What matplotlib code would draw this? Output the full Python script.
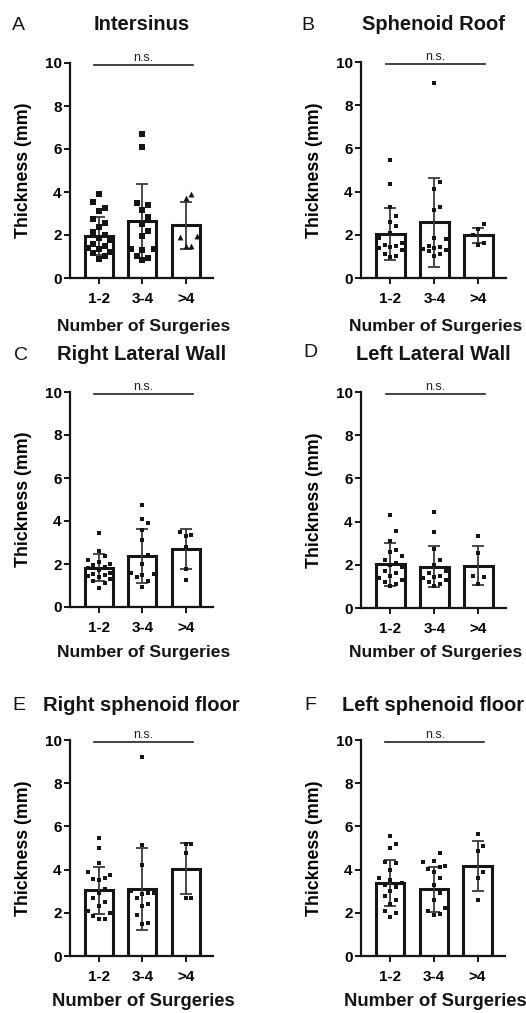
import numpy as np
import matplotlib
matplotlib.use('Agg')
import matplotlib.pyplot as plt

plt.rcParams['font.family'] = ['Liberation Sans', 'DejaVu Sans']

groups = ['1-2', '3-4', '>4']

# panel letter, title
panels = [
    ('A', 'Intersinus'),
    ('B', 'Sphenoid Roof'),
    ('C', 'Right Lateral Wall'),
    ('D', 'Left Lateral Wall'),
    ('E', 'Right sphenoid floor'),
    ('F', 'Left sphenoid floor'),
]

# bar means and SD
means = [
    [1.96, 2.64, 2.46],
    [2.03, 2.57, 1.98],
    [1.83, 2.37, 2.68],
    [2.03, 1.90, 1.95],
    [3.04, 3.09, 4.05],
    [3.38, 3.09, 4.16],
]
sds = [
    [0.89, 1.73, 1.09],
    [1.20, 2.07, 0.34],
    [0.62, 1.27, 0.93],
    [1.00, 0.95, 0.90],
    [1.08, 1.90, 1.20],
    [1.05, 1.04, 1.15],
]

# individual points
intersinus = [
    [3.9, 3.55, 3.25, 3.1, 2.75, 2.55, 2.35, 2.15, 2.0, 1.85, 1.75, 1.6, 1.5, 1.4, 1.35, 1.2, 1.15, 1.0, 0.9],
    [6.7, 6.1, 3.5, 3.4, 3.15, 2.85, 2.5, 2.2, 1.95, 1.35, 1.35, 1.3, 1.0, 0.95, 0.85],
    [3.9, 3.7, 1.95, 1.9, 1.5, 1.5],
]
roof = [
    [5.45, 4.35, 3.3, 2.85, 2.6, 2.4, 2.1, 1.85, 1.6, 1.55, 1.5, 1.45, 1.4, 1.3, 1.1, 1.0, 0.95],
    [9.05, 4.45, 4.1, 3.3, 3.15, 1.85, 1.8, 1.5, 1.45, 1.4, 1.35, 1.3, 1.25, 1.1, 1.0],
    [2.5, 2.25, 2.0, 1.6, 1.55],
]
right_wall = [
    [3.45, 2.6, 2.35, 2.2, 2.1, 2.0, 1.95, 1.85, 1.8, 1.7, 1.6, 1.55, 1.5, 1.45, 1.4, 1.3, 1.2, 1.1, 0.9],
    [4.75, 4.1, 3.9, 3.6, 3.1, 2.4, 2.0, 1.6, 1.55, 1.5, 1.4, 1.2, 0.95],
    [3.5, 3.3, 3.35, 2.8, 1.75, 1.25],
]
left_wall = [
    [4.3, 3.55, 3.1, 2.7, 2.6, 2.4, 2.2, 2.1, 2.0, 1.9, 1.7, 1.6, 1.5, 1.4, 1.3, 1.2, 1.1, 1.0],
    [4.45, 3.5, 2.75, 2.2, 2.0, 1.7, 1.6, 1.5, 1.45, 1.4, 1.3, 1.2, 1.1, 1.0],
    [3.35, 2.55, 1.5, 1.45, 1.1],
]
right_floor = [
    [5.45, 5.0, 4.3, 3.9, 3.75, 3.6, 3.55, 3.5, 3.1, 2.9, 2.7, 2.5, 2.3, 2.1, 2.0, 1.85, 1.7, 1.7],
    [9.2, 5.15, 4.2, 3.0, 2.9, 2.9, 2.85, 2.7, 2.4, 2.3, 1.9, 1.55, 1.5],
    [5.2, 5.2, 4.75, 2.7, 2.7],
]
left_floor = [
    [5.55, 5.2, 5.0, 4.35, 4.3, 4.0, 3.6, 3.5, 3.4, 3.3, 3.2, 3.0, 2.8, 2.6, 2.4, 2.1, 2.0, 1.8],
    [4.75, 4.4, 4.35, 4.15, 4.1, 4.05, 3.9, 3.6, 3.3, 2.9, 2.6, 2.2, 2.1, 1.95, 1.9],
    [5.65, 5.1, 4.85, 3.9, 3.6, 2.6],
]
points = [intersinus, roof, right_wall, left_wall, right_floor, left_floor]

W, H = 526, 1013
# axes boxes in pixels: left, right, top, bottom
boxes = [
    (70, 213, 63, 278),
    (361, 506, 62, 278),
    (70, 213, 392, 607),
    (361, 506, 392, 608),
    (70, 213, 740, 956),
    (361, 505, 740, 956),
]
letter_pos = [(18, 25), (308, 25), (21, 355), (310, 352), (19, 705), (310, 705)]
title_y = [25, 25, 355, 355, 705, 705]
xlabel_y = [326, 326, 652, 652, 1001, 1001]

ink = '#151515'


def swarm(vals, step=0.13, dy=0.45, kmax=2):
    # spread points sideways so that close values do not sit on top of each other
    vals = np.asarray(vals, dtype=float)
    xs = np.zeros(len(vals))
    placed = []
    offs = [0.0]
    for k in range(1, kmax + 1):
        offs += [k * step, -k * step]
    for i in np.argsort(vals):
        y = vals[i]
        best, best_d = 0.0, -1
        for off in offs:
            d = min([np.hypot((off - px) / step, (y - py) / dy) for px, py in placed] + [9.0])
            if d >= 1.0:
                best = off
                break
            if d > best_d:
                best, best_d = off, d
        placed.append((best, y))
        xs[i] = best
    return xs


fig = plt.figure(figsize=(W / 100, H / 100), dpi=100)
fig.patch.set_facecolor('white')

for p, (letter, title) in enumerate(panels):
    l, r, t, b = boxes[p]
    ax = fig.add_axes([l / W, 1 - b / H, (r - l) / W, (b - t) / H])
    x = np.arange(len(groups))

    ax.bar(x, means[p], width=0.65, color='white', edgecolor=ink, linewidth=2.2, zorder=1)
    ax.errorbar(x, means[p], yerr=sds[p], fmt='none', ecolor='#3a3a3a', elinewidth=1.3,
                capsize=4, capthick=1.3, zorder=2)
    for g in range(len(groups)):
        vals = points[p][g]
        xo = swarm(vals)
        marker = '^' if (p == 0 and g == 2) else 's'
        size = 18 if p == 0 else 10
        ax.scatter(x[g] + xo, vals, marker=marker, s=size, color=ink, linewidths=0, zorder=3)

    ax.set_xlim(-0.67, 2.63)
    ax.set_ylim(0, 10)
    ax.set_yticks([0, 2, 4, 6, 8, 10])
    ax.set_xticks(x)
    ax.set_xticklabels(groups)
    ax.spines['top'].set_visible(False)
    ax.spines['right'].set_visible(False)
    for s in ('left', 'bottom'):
        ax.spines[s].set_linewidth(1.6)
        ax.spines[s].set_color(ink)
    ax.tick_params(direction='out', length=4, width=1.4, color=ink, labelsize=11, pad=2)
    for lab in ax.get_xticklabels() + ax.get_yticklabels():
        lab.set_fontweight('bold')
    ax.tick_params(axis='x', pad=6)

    ax.set_ylabel('Thickness (mm)', fontsize=12.8, fontweight='bold', labelpad=9)

    # n.s. bracket
    ax.plot([-0.11, 2.16], [9.9, 9.9], color='#222222', lw=1.2, clip_on=False)
    ax.text(1.02, 9.95, 'n.s.', ha='center', va='bottom', fontsize=9, color='#222222')

    cx = (l + r) / 2
    fig.text(cx / W, 1 - title_y[p] / H, title, ha='center', va='center',
             fontsize=14.5, fontweight='bold', color=ink)
    fs = 13.3 if p >= 4 else 12.6
    fig.text((cx + 2) / W, 1 - xlabel_y[p] / H, 'Number of Surgeries', ha='center', va='center',
             fontsize=fs, fontweight='bold', color=ink)
    lx, ly = letter_pos[p]
    fig.text(lx / W, 1 - ly / H, letter, ha='center', va='center', fontsize=14, color=ink)

fig.savefig('out.png', dpi=100)
